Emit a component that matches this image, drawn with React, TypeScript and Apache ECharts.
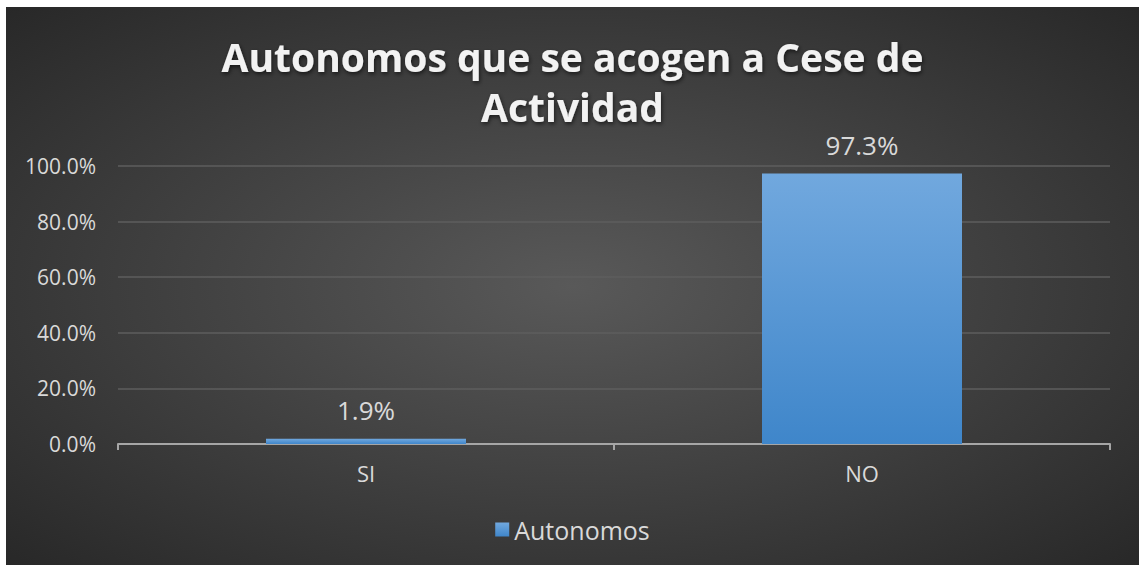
import React, { useEffect, useRef } from "react";
import * as echarts from "echarts";

const categories = ["SI", "NO"];
const seriesName = "Autonomos";
const values = [1.9, 97.3];
const titleLines = ["Autonomos que se acogen a Cese de", "Actividad"];
const yTicks = { min: 0, max: 100, interval: 20 };

export default function App() {
  const ref = useRef<HTMLDivElement>(null);
  useEffect(() => {
    document.body.style.margin = "0";
    const chart = echarts.init(ref.current!, null, { renderer: "svg" });
    const font = "'Open Sans', sans-serif";
    const barColor = new echarts.graphic.LinearGradient(0, 0, 0, 1, [
      { offset: 0, color: "#71a8de" },
      { offset: 1, color: "#3f86ca" },
    ]);
    chart.setOption({
      animation: false,
      backgroundColor: {
        type: "radial",
        x: 0.5,
        y: 0.5,
        r: 0.75,
        colorStops: [
          { offset: 0, color: "#595959" },
          { offset: 1, color: "#252525" },
        ],
      },
      title: {
        text: titleLines.join("\n"),
        left: "center",
        top: 19,
        textStyle: {
          color: "#f2f2f2",
          fontFamily: font,
          fontWeight: "bold",
          fontSize: 39,
          lineHeight: 50,
          textShadowColor: "rgba(0,0,0,0.6)",
          textShadowBlur: 4,
          textShadowOffsetX: 1,
          textShadowOffsetY: 2,
        },
      },
      legend: {
        bottom: 18,
        left: "center",
        itemWidth: 14,
        itemHeight: 14,
        itemGap: 4,
        icon: "rect",
        textStyle: { color: "#d9d9d9", fontSize: 25, fontFamily: font },
        data: [seriesName],
      },
      grid: { left: 112, right: 29, top: 159, bottom: 121 },
      xAxis: {
        type: "category",
        data: categories,
        axisLine: { lineStyle: { color: "#a6a6a6", width: 2 } },
        axisTick: { show: true, length: 6, lineStyle: { color: "#a6a6a6", width: 2 } },
        axisLabel: { color: "#d9d9d9", fontSize: 22, fontFamily: font, margin: 18 },
      },
      yAxis: {
        type: "value",
        min: yTicks.min,
        max: yTicks.max,
        interval: yTicks.interval,
        axisLine: { show: false },
        axisTick: { show: false },
        splitLine: { lineStyle: { color: "#5e5e5e", width: 1.5 } },
        axisLabel: {
          color: "#d9d9d9",
          fontSize: 21,
          fontFamily: font,
          margin: 22,
          formatter: (v: number) => v.toFixed(1) + "%",
        },
      },
      series: [
        {
          name: seriesName,
          type: "bar",
          data: values,
          barWidth: 200,
          itemStyle: { color: barColor },
          label: {
            show: true,
            position: "top",
            distance: 16,
            color: "#d9d9d9",
            fontSize: 26,
            fontFamily: font,
            formatter: (p: any) => p.value.toFixed(1) + "%",
          },
        },
      ],
    });
    return () => chart.dispose();
  }, []);
  return (
    <div style={{ width: 1139, height: 565, background: "#ffffff", position: "relative" }}>
      <div
        ref={ref}
        style={{ position: "absolute", left: 6, top: 7, width: 1133, height: 558 }}
      />
    </div>
  );
}
